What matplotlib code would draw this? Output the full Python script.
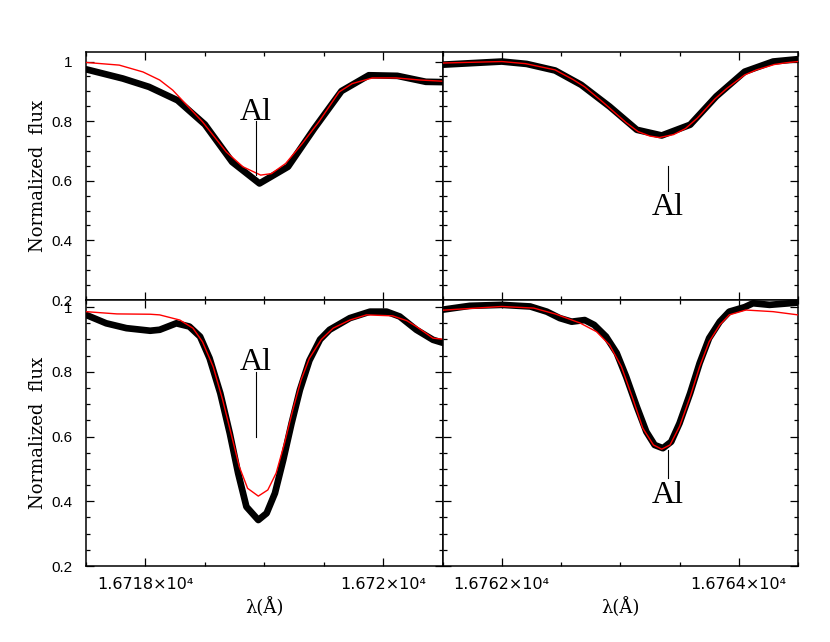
import numpy as np
import matplotlib
matplotlib.use('Agg')
from matplotlib import pyplot as plt
from matplotlib.ticker import MultipleLocator, FixedLocator

# Obserwacje (gruba czarna) i model (czerwony) - linia Al 16719 A
wl_obs_a = [16717.5, 16717.81, 16718.03, 16718.27, 16718.50, 16718.73, 16718.96, 16719.20,
            16719.42, 16719.65, 16719.88, 16720.12, 16720.36, 16720.5]
fx_obs_a = [0.974, 0.943, 0.915, 0.870, 0.789, 0.663, 0.591, 0.647, 0.775, 0.901, 0.954, 0.952, 0.932, 0.931]
wl_mod_a = [16717.5, 16717.78, 16717.98, 16718.12, 16718.23, 16718.31, 16718.48, 16718.68, 16718.82,
            16718.97, 16719.06, 16719.18, 16719.32, 16719.46, 16719.63, 16719.74, 16719.91, 16720.11,
            16720.31, 16720.5]
fx_mod_a = [0.997, 0.988, 0.965, 0.938, 0.904, 0.870, 0.798, 0.697, 0.647, 0.619, 0.624, 0.658, 0.725,
            0.798, 0.898, 0.926, 0.945, 0.945, 0.938, 0.934]

# linia Al 16763 A
wl_obs_b = [16761.48, 16762.0, 16762.21, 16762.45, 16762.67, 16762.91, 16763.14, 16763.35, 16763.59,
            16763.81, 16764.05, 16764.29, 16764.5]
fx_obs_b = [0.989, 1.0, 0.992, 0.970, 0.922, 0.849, 0.771, 0.752, 0.788, 0.883, 0.966, 1.0, 1.008]
wl_mod_b = [16761.5, 16762.0, 16762.2, 16762.45, 16762.6, 16762.7, 16762.85, 16762.95, 16763.05,
            16763.15, 16763.25, 16763.33, 16763.45, 16763.55, 16763.65, 16763.8, 16763.9, 16764.05,
            16764.15, 16764.3, 16764.4, 16764.5]
fx_mod_b = [0.995, 1.0, 0.993, 0.972, 0.94, 0.915, 0.865, 0.83, 0.795, 0.765, 0.75, 0.745, 0.755,
            0.775, 0.81, 0.875, 0.91, 0.955, 0.972, 0.99, 0.996, 1.0]

# drugi obiekt, linia 16719
wl_obs_c = [16717.5, 16717.67, 16717.84, 16718.04, 16718.12, 16718.26, 16718.37, 16718.46, 16718.54,
            16718.63, 16718.71, 16718.78, 16718.85, 16718.95, 16719.02, 16719.09, 16719.16, 16719.23,
            16719.30, 16719.38, 16719.47, 16719.55, 16719.72, 16719.89, 16720.03, 16720.14, 16720.28,
            16720.42, 16720.5]
fx_obs_c = [0.976, 0.950, 0.935, 0.927, 0.930, 0.950, 0.940, 0.909, 0.842, 0.734, 0.610, 0.487, 0.383,
            0.342, 0.363, 0.425, 0.528, 0.641, 0.744, 0.835, 0.900, 0.930, 0.966, 0.986, 0.986, 0.971,
            0.930, 0.899, 0.890]
wl_mod_c = [16717.5, 16717.76, 16718.04, 16718.12, 16718.29, 16718.40, 16718.48, 16718.57, 16718.65,
            16718.72, 16718.79, 16718.86, 16718.95, 16719.03, 16719.10, 16719.17, 16719.24, 16719.31,
            16719.38, 16719.48, 16719.58, 16719.72, 16719.86, 16720.08, 16720.2, 16720.28, 16720.42,
            16720.5]
fx_mod_c = [0.986, 0.979, 0.978, 0.976, 0.960, 0.935, 0.893, 0.816, 0.713, 0.610, 0.507, 0.440, 0.416,
            0.435, 0.487, 0.579, 0.682, 0.775, 0.842, 0.900, 0.935, 0.960, 0.976, 0.973, 0.958, 0.940,
            0.904, 0.901]

# drugi obiekt, linia 16763
wl_obs_d = [16761.48, 16761.73, 16762.0, 16762.24, 16762.38, 16762.49, 16762.59, 16762.70, 16762.78,
            16762.88, 16762.97, 16763.05, 16763.14, 16763.22, 16763.29, 16763.36, 16763.43, 16763.50,
            16763.59, 16763.67, 16763.75, 16763.84, 16763.92, 16764.05, 16764.12, 16764.26, 16764.5]
fx_obs_d = [0.991, 1.004, 1.007, 1.002, 0.986, 0.966, 0.955, 0.960, 0.945, 0.909, 0.858, 0.785, 0.692,
            0.615, 0.574, 0.564, 0.584, 0.641, 0.734, 0.827, 0.904, 0.955, 0.986, 1.0, 1.012, 1.007, 1.014]
wl_mod_d = [16761.48, 16762.0, 16762.27, 16762.45, 16762.66, 16762.80, 16762.91, 16763.01, 16763.11,
            16763.19, 16763.28, 16763.35, 16763.42, 16763.50, 16763.59, 16763.67, 16763.75, 16763.84,
            16763.92, 16764.06, 16764.29, 16764.5]
fx_mod_d = [0.990, 1.002, 0.997, 0.979, 0.951, 0.924, 0.883, 0.816, 0.713, 0.626, 0.574, 0.561, 0.574,
            0.631, 0.723, 0.816, 0.893, 0.945, 0.976, 0.991, 0.986, 0.976]

# znaczniki linii Al: (lambda, y poczatek, y koniec, y tekstu, tekst nad / pod)
mark_a = (16718.93, 0.62, 0.80, 0.805, 'above')
mark_b = (16763.40, 0.565, 0.65, 0.485, 'below')
mark_c = (16718.93, 0.60, 0.80, 0.805, 'above')
mark_d = (16763.40, 0.471, 0.559, 0.395, 'below')

xlim_left = (16717.5, 16720.5)
xlim_right = (16761.5, 16764.5)
ticks_left = [16718, 16720]
labels_left = ['1.6718×10⁴', '1.672×10⁴']
ticks_right = [16762, 16764]
labels_right = ['1.6762×10⁴', '1.6764×10⁴']

fig = plt.figure(figsize=(8.3, 6.42), dpi=100)
L, M, R = 86 / 830, 442.5 / 830, 798 / 830
T, D, B = 1 - 52 / 642, 1 - 300 / 642, 1 - 566 / 642

axs = [fig.add_axes([L, D, M - L, T - D]), fig.add_axes([M, D, R - M, T - D]),
       fig.add_axes([L, B, M - L, D - B]), fig.add_axes([M, B, R - M, D - B])]

data = [(wl_obs_a, fx_obs_a, wl_mod_a, fx_mod_a, mark_a),
        (wl_obs_b, fx_obs_b, wl_mod_b, fx_mod_b, mark_b),
        (wl_obs_c, fx_obs_c, wl_mod_c, fx_mod_c, mark_c),
        (wl_obs_d, fx_obs_d, wl_mod_d, fx_mod_d, mark_d)]

sans = 'Liberation Sans'
serif = 'DejaVu Serif'

for i, ax in enumerate(axs):
    wo, fo, wm, fm, mk = data[i]
    ax.plot(wo, fo, color='black', lw=4.8, solid_joinstyle='round', solid_capstyle='round', zorder=2)
    ax.plot(wm, fm, color='red', lw=1.0, solid_joinstyle='round', zorder=3)
    ax.plot([mk[0], mk[0]], [mk[1], mk[2]], color='black', lw=0.8, zorder=4)
    if mk[4] == 'above':
        ax.text(mk[0], mk[3], 'Al', ha='center', va='baseline', fontsize=23, family='Liberation Serif')
    else:
        ax.text(mk[0], mk[3], 'Al', ha='center', va='baseline', fontsize=23, family='Liberation Serif')

    left = i % 2 == 0
    top = i < 2
    ax.set_xlim(xlim_left if left else xlim_right)
    ax.set_ylim((0.2, 1.032) if top else (0.2, 1.022))
    ax.xaxis.set_major_locator(FixedLocator(ticks_left if left else ticks_right))
    ax.xaxis.set_minor_locator(MultipleLocator(0.5))
    ax.yaxis.set_major_locator(MultipleLocator(0.2))
    ax.yaxis.set_minor_locator(MultipleLocator(0.05))
    ax.tick_params(which='both', direction='in', top=True, right=True, width=0.9)
    ax.tick_params(which='major', length=6)
    ax.tick_params(which='minor', length=3.2)
    ax.tick_params(axis='y', pad=10, labelsize=11)
    ax.tick_params(axis='x', pad=8, labelsize=11)
    for s in ax.spines.values():
        s.set_linewidth(1.1)

    if top:
        ax.set_xticklabels([])
    else:
        ax.set_xticklabels(labels_left if left else labels_right, family='DejaVu Sans', fontsize=11.5)
        ax.set_xlabel('λ(Å)', fontsize=13, family=serif, labelpad=4)
    if left:
        ax.set_yticks([0.2, 0.4, 0.6, 0.8, 1.0])
        ax.set_yticklabels(['0.2', '0.4', '0.6', '0.8', '1'], family=sans)
        ax.set_ylabel('Normalized  flux', fontsize=13, family=serif, labelpad=3)
    else:
        ax.set_yticklabels([])

plt.savefig('out.png', dpi=100)
